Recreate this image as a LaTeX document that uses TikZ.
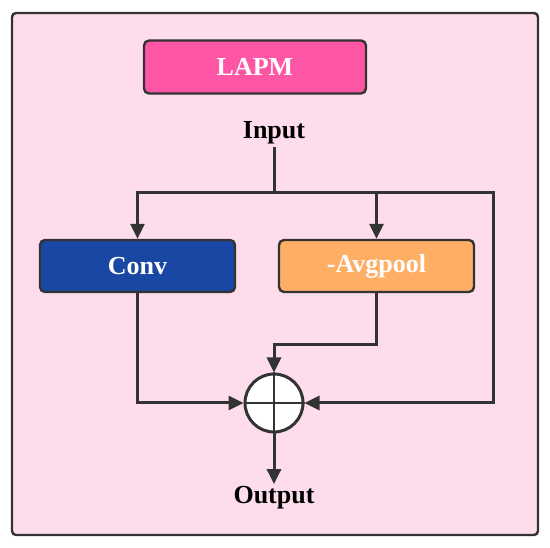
\documentclass[tikz,border=0pt]{standalone}
\usepackage{fontspec}
\setmainfont{Liberation Serif}
\usetikzlibrary{positioning,calc,arrows.meta}
\definecolor{bgpink}{HTML}{FDDDEB}
\definecolor{lapmpink}{HTML}{FF55A5}
\definecolor{convblue}{HTML}{1B47A4}
\definecolor{avgorange}{HTML}{FFAE65}
\definecolor{linegray}{HTML}{333333}

\begin{document}
\begin{tikzpicture}[x=1pt,y=-1pt,
    line width=3pt, draw=linegray,
    blockbox/.style={rectangle,draw=linegray,rounded corners=5pt,line width=2.4pt,
        text=white,font=\fontsize{26}{30}\selectfont\bfseries,minimum height=52},
    lbl/.style={font=\fontsize{26}{30}\selectfont\bfseries,inner sep=1pt},
    arr/.style={-{Triangle[length=15pt,width=14pt]},linegray}]
\useasboundingbox (0,0) rectangle (550,548);
\draw[fill=bgpink,draw=linegray,line width=2.4pt,rounded corners=4pt] (12,13) rectangle (538,535);

% blocks
\node (lapm) [blockbox,fill=lapmpink,minimum width=222,minimum height=53] at (255,67) {LAPM};
\node (input) [lbl] at (274,133) {Input};
\node (conv) [blockbox,fill=convblue,minimum width=195] at (137.5,266) {Conv};
\node (avg) [blockbox,fill=avgorange,minimum width=195] at (376.5,266) {-Avgpool};
\node (sum) [circle,draw=linegray,fill=white,line width=3pt,minimum size=58,inner sep=0pt] at (274,403) {};
\node (output) [lbl] at (274,498) {Output};
\draw[line width=2.4pt] (sum.north) -- (sum.south) (sum.west) -- (sum.east);

% connectors
\coordinate (split) at (274,193);
\coordinate (rt) at (493,193);
\coordinate (avgbend) at (376.5,345);
\draw (input.south) -- (split);
\draw[arr] (split) -| (conv.north);
\draw[arr] (split) -| (avg.north);
\draw[arr] (split) -- (rt) |- (sum.east);
\draw[arr] (conv.south) |- (sum.west);
\draw[arr] (avg.south) -- (avgbend) -| (sum.north);
\draw[arr] (sum.south) -- (output.north);
\end{tikzpicture}
\end{document}
